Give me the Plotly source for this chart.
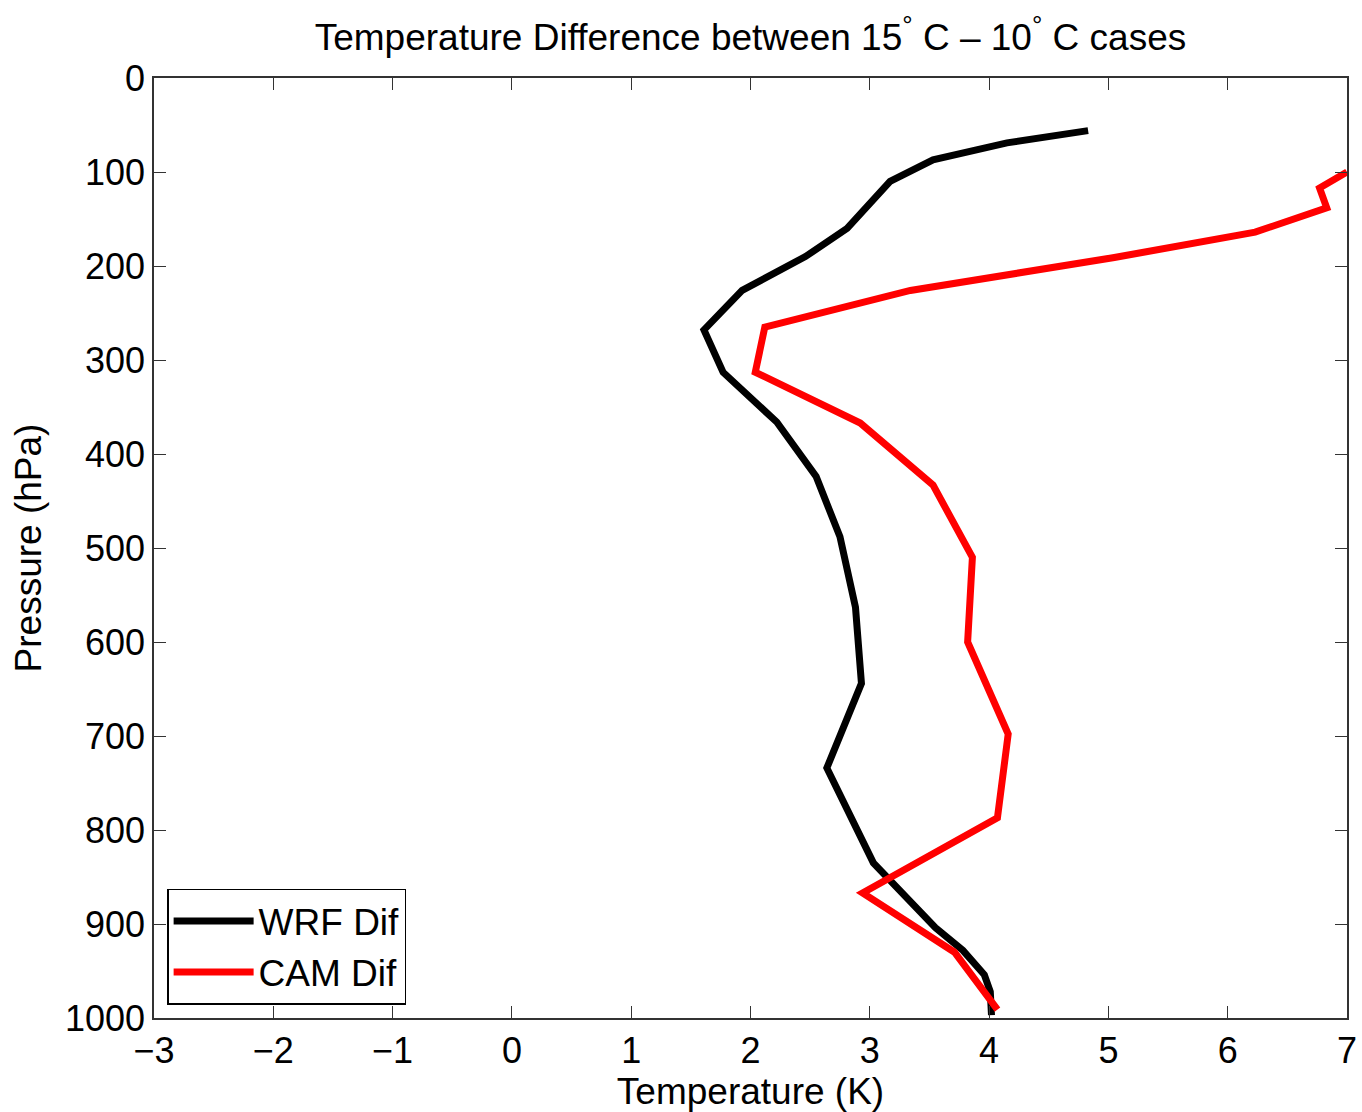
import plotly.graph_objects as go

wrf_T = [4.83, 4.15, 3.53, 3.17, 2.81, 2.46, 1.93, 1.61, 1.77, 2.22, 2.55, 2.75, 2.88, 2.93, 2.64, 3.03, 3.55, 3.78, 3.96, 4.01, 4.02]
wrf_p = [56, 69, 87, 110, 160, 190, 226, 268, 313, 366, 424, 488, 563, 644, 734, 835, 904, 928, 954, 972, 997]

cam_T = [7.0, 6.77, 6.83, 6.23, 5.05, 3.34, 2.12, 2.04, 2.92, 3.53, 3.86, 3.82, 4.16, 4.07, 2.94, 3.71, 4.07]
cam_p = [100, 117, 138, 164, 191, 226, 265, 313, 367, 433, 510, 600, 698, 787, 867, 930, 991]

x_ticks = [-3, -2, -1, 0, 1, 2, 3, 4, 5, 6, 7]
x_labels = ["\u22123", "\u22122", "\u22121", "0", "1", "2", "3", "4", "5", "6", "7"]
y_ticks = [0, 100, 200, 300, 400, 500, 600, 700, 800, 900, 1000]

font = "Liberation Sans, Arial, Helvetica, sans-serif"

fig = go.Figure()
fig.add_trace(go.Scatter(x=wrf_T, y=wrf_p, mode="lines", name="WRF Dif",
                         line=dict(color="black", width=7)))
fig.add_trace(go.Scatter(x=cam_T, y=cam_p, mode="lines", name="CAM Dif",
                         line=dict(color="#ff0000", width=7)))

fig.update_layout(
    width=1362, height=1112,
    margin=dict(l=154, r=15, t=78, b=94),
    plot_bgcolor="white", paper_bgcolor="white",
    font=dict(family=font, color="black", size=36),
    title=dict(text="Temperature Difference between 15<sup>°</sup> C \u2013 10<sup>°</sup> C cases",
               x=0.551, xanchor="center", y=0.967, yanchor="middle",
               font=dict(size=37, family=font)),
    showlegend=True,
    legend=dict(x=0.011, y=0.014, xanchor="left", yanchor="bottom",
                bordercolor="black", borderwidth=1.5, bgcolor="white",
                font=dict(size=37, family=font), tracegroupgap=0,
                itemwidth=80),
)
fig.update_xaxes(range=[-3, 7], tickvals=x_ticks, ticktext=x_labels,
                 showgrid=False, zeroline=False, showline=True, linecolor="#333333",
                 linewidth=1.5, mirror="ticks", ticks="inside", ticklen=12,
                 tickcolor="#333333", tickfont=dict(size=36), automargin=False,
                 title=dict(text="Temperature (K)", font=dict(size=37), standoff=4))
fig.update_yaxes(range=[1000, 0], tickvals=y_ticks, automargin=False,
                 showgrid=False, zeroline=False, showline=True, linecolor="#333333",
                 linewidth=1.5, mirror="ticks", ticks="inside", ticklen=12,
                 tickcolor="#333333", tickfont=dict(size=36),
                 title=dict(text="Pressure (hPa)", font=dict(size=37), standoff=12))

fig.write_html("out.html")
